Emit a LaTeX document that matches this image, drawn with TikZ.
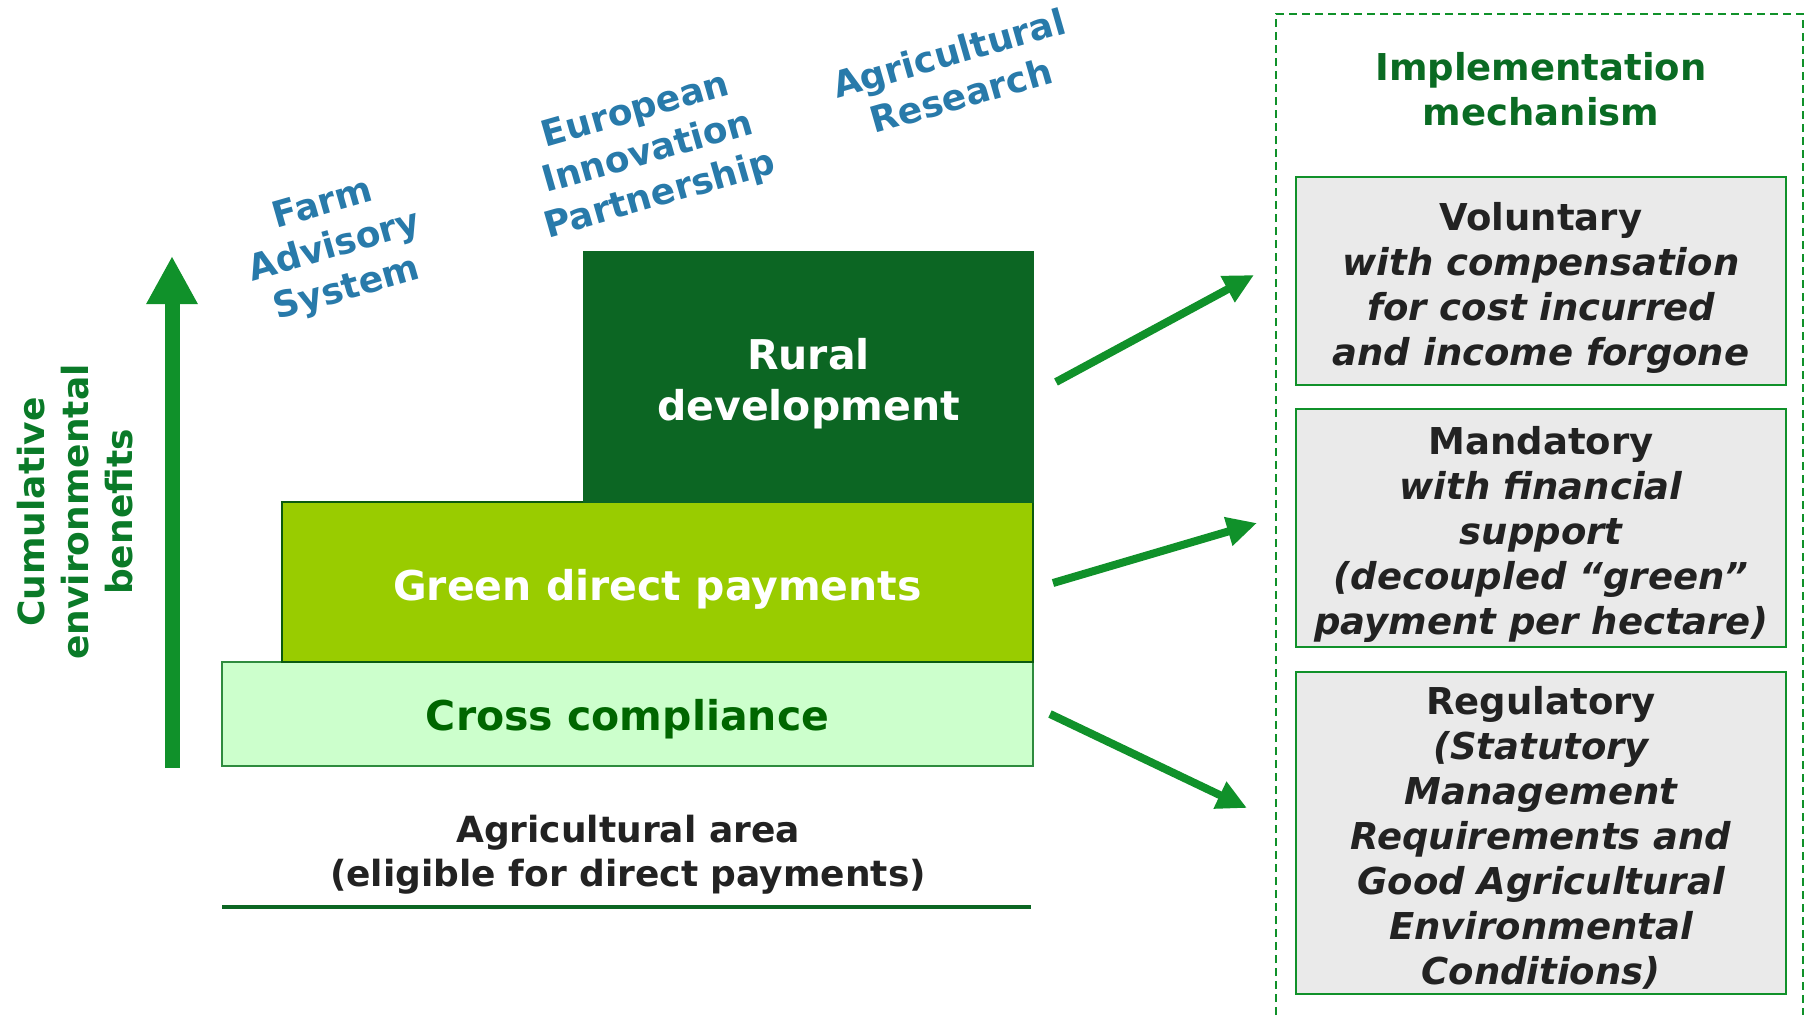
\documentclass[tikz,border=0pt]{standalone}
\usepackage{fontspec}
\setmainfont{DejaVu Sans}[BoldFont={DejaVu Sans Bold}, ItalicFont={DejaVu Sans Oblique}, BoldItalicFont={DejaVu Sans Bold Oblique}]
\usepackage{xcolor}
\usepackage{tikz}
\usetikzlibrary{arrows.meta, positioning}
\definecolor{ruralgreen}{RGB}{12,102,35}
\definecolor{paygreen}{RGB}{153,204,0}
\definecolor{payedge}{RGB}{10,90,16}
\definecolor{crossfill}{RGB}{204,255,204}
\definecolor{crossedge}{RGB}{46,139,62}
\definecolor{crosstext}{RGB}{0,102,0}
\definecolor{arrowgreen}{RGB}{16,145,42}
\definecolor{titlegreen}{RGB}{10,107,35}
\definecolor{axisgreen}{RGB}{10,122,40}
\definecolor{labelblue}{RGB}{40,122,170}
\definecolor{boxgrey}{RGB}{234,234,234}
\definecolor{textdark}{RGB}{34,34,34}

\begin{document}
\begin{tikzpicture}[
    x=1pt, y=-1pt,
    layer/.style={rectangle, draw, line width=2pt, inner sep=0pt, outer sep=0pt, align=center, font=\fontsize{41}{51}\selectfont\bfseries},
    mech/.style={rectangle, draw=arrowgreen, fill=boxgrey, line width=2.5pt, minimum width=490pt, inner sep=0pt, outer sep=0pt, align=center, text=textdark, font=\fontsize{37}{45}\selectfont\bfseries},
    tool/.style={rotate=16, align=center, text=labelblue, font=\fontsize{36}{44}\selectfont\bfseries},
    arrow/.style={-{Triangle[length=30pt,width=28pt]}, line width=8pt, arrowgreen},
    uparrow/.style={-{Triangle[length=48pt,width=48pt]}, line width=15pt, arrowgreen},
    frame/.style={arrowgreen, line width=2pt, dash pattern=on 8pt off 5pt}
]
    \useasboundingbox (0,0) rectangle (1806,1015);

    % Layers
    \node[layer, fill=crossfill, draw=crossedge, text=crosstext, minimum width=811pt, minimum height=104pt] (cross) at (627.5,714) {\rule{0pt}{42pt}Cross compliance};
    \node[layer, fill=paygreen, draw=payedge, text=white, minimum width=751pt, minimum height=160pt, anchor=south east] (green) at (cross.north east) {\rule{0pt}{46pt}Green direct payments};
    \node[layer, fill=ruralgreen, draw=ruralgreen, text=white, minimum width=449pt, minimum height=250pt, anchor=south east] (rural) at (green.north east) {\rule{0pt}{45pt}Rural\\development};

    % Tools
    \node[tool] (fas) at (335,248) {Farm\\Advisory\\System};
    \node[tool] (eip) at (648,154) {European\\Innovation\\Partnership};
    \node[tool] (research) at (955,74) {Agricultural\\Research};

    % Benefits axis
    \coordinate (axbot) at (172,768);
    \coordinate (axtop) at (172,256);
    \draw[uparrow] (axbot) -- (axtop);
    \node[rotate=90, align=center, text=axisgreen, font=\fontsize{36}{44}\selectfont\bfseries] (benefits) at (75,512) {Cumulative\\environmental\\benefits};

    % Area
    \node[align=center, text=textdark, font=\fontsize{36}{44}\selectfont\bfseries] (area) at (628,855) {Agricultural area\\(eligible for direct payments)};
    \draw[line width=4pt, ruralgreen] (222,907) -- (1031,907);

    % Implementation mechanism
    \draw[frame] (1276,1015) -- (1276,14) -- (1803,14) -- (1803,1015);
    \node[align=center, text=titlegreen, font=\fontsize{37}{45}\selectfont\bfseries] (title) at (1541,89) {Implementation\\mechanism};
    \node[mech, minimum height=208pt] (vol) at (1541,281) {\rule{0pt}{41pt}Voluntary\\\itshape with compensation\\\itshape for cost incurred\\\itshape and income forgone};
    \node[mech, minimum height=238pt, below=24pt of vol] (mand) {\rule{0pt}{40pt}Mandatory\\\itshape with financial\\\itshape support\\\itshape (decoupled “green”\\\itshape payment per hectare)};
    \node[mech, minimum height=322pt, below=25pt of mand] (reg) {\rule{0pt}{38pt}Regulatory\\\itshape (Statutory\\\itshape Management\\\itshape Requirements and\\\itshape Good Agricultural\\\itshape Environmental\\\itshape Conditions)};

    % Arrows
    \draw[arrow] ([xshift=23pt,yshift=-5pt]rural.east) -- ([xshift=-42pt,yshift=6pt]vol.west);
    \draw[arrow] ([xshift=20pt,yshift=-1pt]green.east) -- ([xshift=-39pt,yshift=5pt]mand.west);
    \draw[arrow] ([xshift=17pt]cross.east) -- ([xshift=-49pt,yshift=25pt]reg.west);
\end{tikzpicture}
\end{document}
